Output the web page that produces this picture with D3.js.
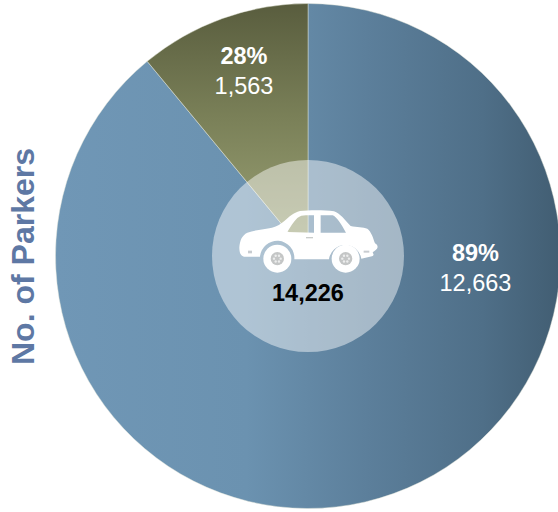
<!DOCTYPE html>
<html>
<head>
<meta charset="utf-8">
<script src="https://cdn.jsdelivr.net/npm/d3@7"></script>
<style>
html, body { margin: 0; padding: 0; background: #fff; }
svg { display: block; }
text { font-family: "Liberation Sans", Arial, sans-serif; }
</style>
</head>
<body>
<div id="chart"></div>
<script>
// Parker counts by group, with the share labels printed on the chart
const categories = ["Group A", "Group B"];
const parkers = [12663, 1563];
const shareLabels = ["89%", "28%"];
const countLabels = ["12,663", "1,563"];
const totalLabel = "14,226";
const axisTitle = "No. of Parkers";

const width = 558, height = 512;
const cx = 308, cy = 256, outerR = 252.5, hubR = 96;

const svg = d3.select("#chart").append("svg")
  .attr("width", width).attr("height", height);

const defs = svg.append("defs");

// Gradient coordinates are relative to the pie centre, where the slices are drawn
const blue = defs.append("linearGradient").attr("id", "blueFill")
  .attr("gradientUnits", "userSpaceOnUse")
  .attr("x1", 55 - cx).attr("x2", 558 - cx).attr("y1", 0).attr("y2", 0);
[[0, "#7097b6"], [0.38, "#6b92b0"], [0.62, "#5c7f9b"], [0.85, "#4f6f88"], [1, "#425e73"]]
  .forEach(([o, c]) => blue.append("stop").attr("offset", o).attr("stop-color", c));

const olive = defs.append("linearGradient").attr("id", "oliveFill")
  .attr("gradientUnits", "userSpaceOnUse")
  .attr("x1", 0).attr("x2", 0).attr("y1", 4 - cy).attr("y2", 0);
[[0, "#595d3e"], [0.45, "#7a8058"], [1, "#9ea578"]]
  .forEach(([o, c]) => olive.append("stop").attr("offset", o).attr("stop-color", c));

const pie = d3.pie().sort(null).value(d => d.value);
const arc = d3.arc().innerRadius(0).outerRadius(outerR);
const slices = pie(categories.map((name, i) => ({ name, value: parkers[i] })));

const plot = svg.append("g").attr("transform", `translate(${cx},${cy})`);

plot.selectAll("path.slice").data(slices).join("path")
  .attr("class", "slice")
  .attr("d", arc)
  .attr("fill", (d, i) => i === 0 ? "url(#blueFill)" : "url(#oliveFill)")
  .attr("stroke", "#e6e8dc")
  .attr("stroke-opacity", 0.65)
  .attr("stroke-width", 0.7);

// Translucent hub over the middle of the pie
plot.append("circle").attr("r", hubR).attr("fill", "#fff").attr("fill-opacity", 0.46);

// Car icon, drawn in its own 3x coordinate space; the windows and wheel arches are cut out
const car = svg.append("g").attr("transform", "translate(200,150) scale(0.3333)");
const bodyPath =
  "M118,292 C120,270 126,256 142,248 C165,240 195,238 216,233 C232,229 242,222 254,212 " +
  "C268,200 280,188 300,183 C330,180 375,180 402,184 C420,190 435,210 452,228 " +
  "C470,232 490,232 502,236 C514,245 520,265 525,280 C532,284 535,290 531,296 " +
  "C526,302 520,304 518,308 C522,312 522,316 516,319 L484,326 " +
  "A49,49 0 0 0 387,328 L283,328 A51,51 0 0 0 180,320 L132,320 C124,318 118,312 118,292 Z " +
  "M262,246 C270,232 280,216 292,204 C300,198 308,196 318,196 L342,196 L342,248 Z " +
  "M362,196 L398,196 C410,200 425,225 438,248 L362,248 Z";
car.append("path").attr("d", bodyPath).attr("fill", "#fff").attr("fill-rule", "evenodd");
car.append("rect").attr("x", 318).attr("y", 261).attr("width", 21).attr("height", 4).attr("fill", "#c9ccca");
car.append("rect").attr("x", 144).attr("y", 302).attr("width", 12).attr("height", 8).attr("fill", "#c8ccd0");
car.append("rect").attr("x", 491).attr("y", 302).attr("width", 17).attr("height", 6).attr("fill", "#c8ccd0");

[232, 437].forEach(wx => {
  const wheel = car.append("g").attr("transform", `translate(${wx},326)`);
  wheel.append("circle").attr("r", 42).attr("fill", "#fff");
  wheel.append("circle").attr("r", 20).attr("fill", "#c4c6c6");
  d3.range(6).forEach(k => {
    wheel.append("circle")
      .attr("cx", 10 * Math.cos(k * Math.PI / 3))
      .attr("cy", 10 * Math.sin(k * Math.PI / 3))
      .attr("r", 3.6).attr("fill", "#eceded");
  });
});

// Slice labels
const labelPos = [[475.5, 261], [244, 64]];
slices.forEach((d, i) => {
  const [x, y] = labelPos[i];
  svg.append("text").attr("x", x).attr("y", y)
    .attr("text-anchor", "middle").attr("fill", "#fff")
    .attr("font-size", 23.5).attr("font-weight", "bold").text(shareLabels[i]);
  svg.append("text").attr("x", x).attr("y", y + 29.5)
    .attr("text-anchor", "middle").attr("fill", "#fff")
    .attr("font-size", 23.5).text(countLabels[i]);
});

svg.append("text").attr("x", 308).attr("y", 300.5)
  .attr("text-anchor", "middle").attr("fill", "#000")
  .attr("font-size", 23.5).attr("font-weight", "bold").text(totalLabel);

svg.append("text")
  .attr("transform", "translate(34,256.5) rotate(-90)")
  .attr("text-anchor", "middle").attr("fill", "#5e78a4")
  .attr("font-size", 32).attr("font-weight", "bold").text(axisTitle);
</script>
</body>
</html>
